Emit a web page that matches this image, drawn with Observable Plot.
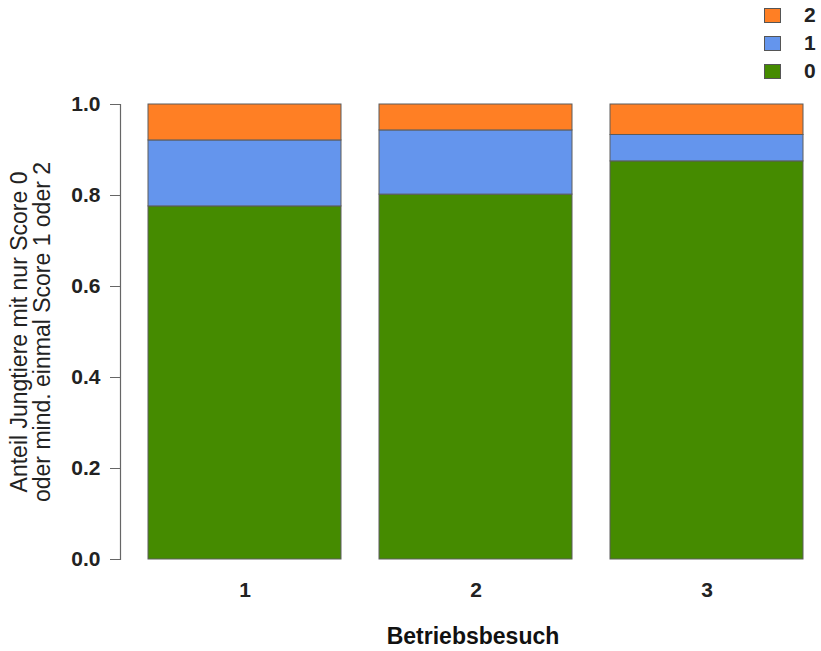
<!DOCTYPE html>
<html>
<head>
<meta charset="utf-8">
<script src="https://cdn.jsdelivr.net/npm/d3@7"></script>
<script src="https://cdn.jsdelivr.net/npm/@observablehq/plot@0.6"></script>
<style>
  html, body { margin: 0; padding: 0; background: #fff; }
  #wrap { position: relative; width: 821px; height: 651px; font-family: "Liberation Sans", Arial, sans-serif; }
  #legend { position: absolute; right: 0; top: 0; width: 70px; }
  .lg-row { position: absolute; left: 0; display: flex; align-items: center; }
  .lg-sw { width: 17px; height: 15px; border: 1px solid #555; box-sizing: border-box; }
  .lg-tx { margin-left: 23px; font-size: 21px; font-weight: bold; color: #222; }
</style>
</head>
<body>
<div id="wrap"></div>
<script>
// ---- data ----
const visits = ["1", "2", "3"];
const scores = ["0", "1", "2"];
const score0 = [0.776, 0.802, 0.875];
const score1 = [0.145, 0.141, 0.058];
const score2 = [0.079, 0.057, 0.067];
const colors = ["#458B00", "#6495ED", "#FF7F24"];
const yTicks = [0, 0.2, 0.4, 0.6, 0.8, 1.0];
const yLabel = "Anteil Jungtiere mit nur Score 0\noder mind. einmal Score 1 oder 2";
const xLabel = "Betriebsbesuch";

const series = [score0, score1, score2];
const rows = [];
visits.forEach((v, i) => {
  scores.forEach((s, j) => rows.push({visit: v, score: s, value: series[j][i]}));
});

const font = "Liberation Sans, Arial, sans-serif";

const chart = Plot.plot({
  width: 821,
  height: 651,
  marginTop: 104,
  marginBottom: 92,
  marginLeft: 120,
  marginRight: 18,
  style: {fontFamily: font, background: "#fff", color: "#222"},
  x: {domain: visits, paddingInner: 0.166, paddingOuter: 0.058, align: 1, axis: null},
  y: {domain: [0, 1], axis: null},
  color: {domain: scores, range: colors},
  marks: [
    Plot.barY(rows, {x: "visit", y: "value", fill: "score", order: scores, stroke: "#5c5c5c", strokeWidth: 1}),
    Plot.frame({anchor: "left", stroke: "#666", strokeWidth: 1.2}),
    Plot.axisY({ticks: yTicks, tickFormat: d3.format(".1f"), tickSize: 10, tickPadding: 10, fontSize: 21, fontWeight: "bold", stroke: "#666", fill: "#222", label: null}),
    Plot.axisX({tickSize: 0, tickPadding: 23, fontSize: 21, fontWeight: "bold", fill: "#222", label: null}),
    Plot.text([xLabel], {frameAnchor: "bottom", dx: 11, dy: 77, text: d => d, fontSize: 23, fontWeight: "bold", fill: "#111", lineAnchor: "middle", textAnchor: "middle"}),
    Plot.text([yLabel], {frameAnchor: "left", dx: -89, rotate: -90, text: d => d, fontSize: 23, fill: "#222", lineAnchor: "middle", textAnchor: "middle", lineHeight: 1.0})
  ]
});

const wrap = document.getElementById("wrap");
wrap.appendChild(chart);

// legend (top-right), order top to bottom: 2, 1, 0
const legend = document.createElement("div");
legend.id = "legend";
legend.style.height = "100px";
scores.slice().reverse().forEach((s, k) => {
  const row = document.createElement("div");
  row.className = "lg-row";
  row.style.top = (3 + k * 28) + "px";
  row.style.left = "13px";
  const sw = document.createElement("div");
  sw.className = "lg-sw";
  sw.style.background = colors[scores.indexOf(s)];
  const tx = document.createElement("div");
  tx.className = "lg-tx";
  tx.textContent = s;
  row.appendChild(sw);
  row.appendChild(tx);
  legend.appendChild(row);
});
wrap.appendChild(legend);
</script>
</body>
</html>
